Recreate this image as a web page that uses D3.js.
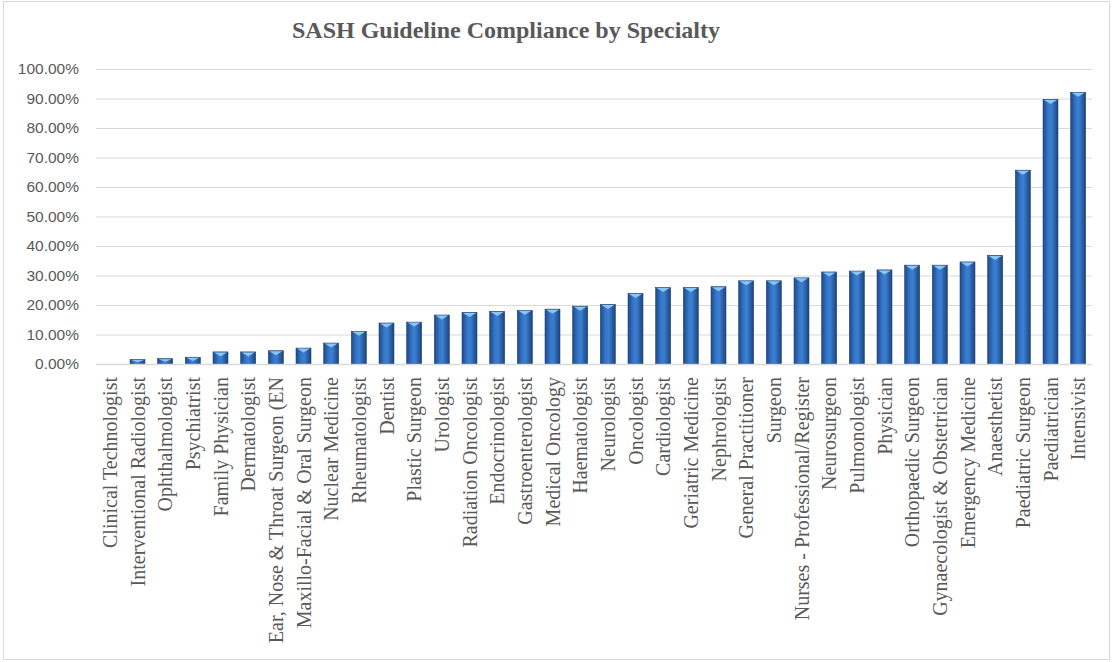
<!DOCTYPE html>
<html>
<head>
<meta charset="utf-8">
<script src="https://d3js.org/d3.v7.min.js"></script>
<style>
  html, body { margin: 0; padding: 0; background: #fff; }
  svg { display: block; }
</style>
</head>
<body>
<div id="chart"></div>
<script>
// SASH guideline compliance, one bar per specialty (values in %)
var specialties = [
  'Clinical Technologist', 'Interventional Radiologist', 'Ophthalmologist', 'Psychiatrist',
  'Family Physician', 'Dermatologist', 'Ear, Nose & Throat Surgeon (EN', 'Maxillo-Facial & Oral Surgeon',
  'Nuclear Medicine', 'Rheumatologist', 'Dentist', 'Plastic Surgeon', 'Urologist',
  'Radiation Oncologist', 'Endocrinologist', 'Gastroenterologist', 'Medical Oncology',
  'Haematologist', 'Neurologist', 'Oncologist', 'Cardiologist', 'Geriatric Medicine',
  'Nephrologist', 'General Practitioner', 'Surgeon', 'Nurses - Professional/Register',
  'Neurosurgeon', 'Pulmonologist', 'Physician', 'Orthopaedic Surgeon',
  'Gynaecologist & Obstetrician', 'Emergency Medicine', 'Anaesthetist', 'Paediatric Surgeon',
  'Paediatrician', 'Intensivist'
];
var compliance = [
  0, 1.5, 1.8, 2.3, 4.1, 4.1, 4.5, 5.4, 7.1, 11.1, 13.9, 14.2, 16.6,
  17.5, 17.8, 18.2, 18.6, 19.6, 20.2, 23.9, 25.9, 25.9, 26.2, 28.2, 28.2, 29.2,
  31.2, 31.5, 31.9, 33.5, 33.5, 34.6, 36.8, 65.7, 89.7, 92.1
];
var yTicks = [0, 10, 20, 30, 40, 50, 60, 70, 80, 90, 100];

var W = 1112, H = 662;
var plot = { left: 96, right: 1092, top: 69, bottom: 364 };

var svg = d3.select('#chart').append('svg')
  .attr('width', W).attr('height', H);

// chart frame
svg.append('rect')
  .attr('x', 3.5).attr('y', 1.5)
  .attr('width', W - 6).attr('height', H - 4)
  .attr('fill', '#fff').attr('stroke', '#d9d9d9').attr('stroke-width', 1);

var defs = svg.append('defs');
var grad = defs.append('linearGradient')
  .attr('id', 'barGrad').attr('x1', '0%').attr('x2', '100%').attr('y1', '0%').attr('y2', '0%');
grad.append('stop').attr('offset', '0%').attr('stop-color', '#1d4a86');
grad.append('stop').attr('offset', '35%').attr('stop-color', '#3677ca');
grad.append('stop').attr('offset', '55%').attr('stop-color', '#3b7fd2');
grad.append('stop').attr('offset', '100%').attr('stop-color', '#1b447d');

var x = d3.scaleBand()
  .domain(specialties)
  .range([plot.left, plot.right])
  .paddingInner(0.46).paddingOuter(0.23);

var y = d3.scaleLinear()
  .domain([0, 100])
  .range([plot.bottom, plot.top]);

// title
svg.append('text')
  .attr('x', 506).attr('y', 38)
  .attr('text-anchor', 'middle')
  .style('font-family', '"Liberation Serif", "Times New Roman", serif')
  .style('font-weight', 'bold')
  .style('font-size', '24px')
  .style('fill', '#595959')
  .text('SASH Guideline Compliance by Specialty');

// gridlines + y labels
var yAxis = d3.axisLeft(y)
  .tickValues(yTicks)
  .tickSize(-(plot.right - plot.left))
  .tickPadding(17)
  .tickFormat(function(d) { return d.toFixed(2) + '%'; });

var gy = svg.append('g')
  .attr('transform', 'translate(' + plot.left + ',0)')
  .call(yAxis);
gy.select('.domain').remove();
gy.selectAll('.tick line').attr('stroke', '#d9d9d9').attr('stroke-width', 1);
gy.selectAll('.tick text')
  .style('font-family', '"Liberation Sans", Arial, sans-serif')
  .style('font-size', '15.5px')
  .style('fill', '#595959');

// bars
var bars = svg.append('g').selectAll('g.bar')
  .data(specialties)
  .join('g')
  .attr('class', 'bar');

bars.append('rect')
  .attr('x', function(d) { return x(d); })
  .attr('y', function(d, i) { return y(compliance[i]); })
  .attr('width', x.bandwidth())
  .attr('height', function(d, i) { return y(0) - y(compliance[i]); })
  .attr('fill', 'url(#barGrad)')
  .attr('stroke', '#1a3f73').attr('stroke-width', 0.6)
  .style('display', function(d, i) { return compliance[i] > 0 ? null : 'none'; });

// bevel highlight at the top of each bar
bars.append('path')
  .attr('d', function(d, i) {
    var x0 = x(d), w = x.bandwidth(), top = y(compliance[i]);
    var h = Math.min(4, (y(0) - top) / 2);
    return 'M' + (x0 + 1) + ',' + (top + 0.5) + 'L' + (x0 + w - 1) + ',' + (top + 0.5) +
           'L' + (x0 + w / 2) + ',' + (top + h + 0.5) + 'Z';
  })
  .attr('fill', '#8cc4f2')
  .style('display', function(d, i) { return compliance[i] > 0 ? null : 'none'; });

// x axis baseline
svg.append('line')
  .attr('x1', plot.left).attr('x2', plot.right)
  .attr('y1', y(0) + 0.5).attr('y2', y(0) + 0.5)
  .attr('stroke', '#d9d9d9').attr('stroke-width', 1.5);

// rotated category labels
svg.append('g').selectAll('text')
  .data(specialties)
  .join('text')
  .attr('transform', function(d) {
    return 'translate(' + (x(d) + x.bandwidth() / 2) + ',' + (plot.bottom + 13) + ') rotate(-90)';
  })
  .attr('text-anchor', 'end')
  .attr('dy', '0.35em')
  .style('font-family', '"Liberation Serif", "Times New Roman", serif')
  .style('font-size', '20px')
  .style('fill', '#595959')
  .text(function(d) { return d; });
</script>
</body>
</html>
